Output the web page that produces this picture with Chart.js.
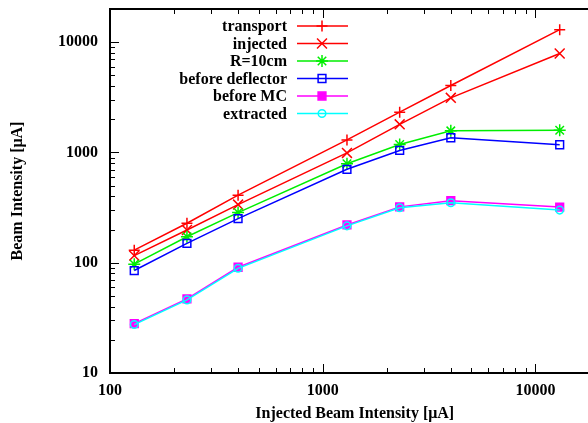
<!DOCTYPE html>
<html>
<head>
<meta charset="utf-8">
<script src="https://cdn.jsdelivr.net/npm/chart.js@4.4.0/dist/chart.umd.min.js"></script>
<style>
  body { margin: 0; background: #fff; overflow: hidden; }
  #wrap { width: 588px; height: 423px; overflow: hidden; }
</style>
</head>
<body>
<div id="wrap"><canvas id="myChart" width="608" height="423"></canvas></div>
<script>
// injected beam intensity (x) and measured currents (uA)
const injectedX = [130, 230, 400, 1300, 2300, 4000, 13000];
const transport = [130, 228, 410, 1300, 2320, 4050, 13000];
const injected = [116, 198, 337, 990, 1800, 3130, 7900];
const r10cm = [97, 172, 285, 790, 1180, 1570, 1590];
const beforeDeflector = [85, 150, 251, 704, 1043, 1360, 1175];
const beforeMC = [28, 47, 91, 220, 321, 365, 320];
const extracted = [27.5, 46, 89, 216, 315, 350, 300];

const xTickLabels = [100, 1000, 10000];
const yTickLabels = [10, 100, 1000, 10000];

const FONT = "'Liberation Serif', 'DejaVu Serif', serif";
Chart.defaults.font = { family: FONT, size: 16, weight: "bold" };
Chart.defaults.color = "#000";

function pts(ys) {
  return injectedX.map((x, i) => ({ x: x, y: ys[i] }));
}

function series(label, ys, color, style, radius, filled, i) {
  return {
    label: label,
    data: pts(ys),
    borderColor: color,
    backgroundColor: color,
    borderWidth: 1.5,
    pointStyle: style,
    pointRadius: radius,
    pointBorderWidth: 1.5,
    pointBorderColor: color,
    pointBackgroundColor: filled ? color : "rgba(0,0,0,0)",
    tension: 0,
    order: 5 - i,
  };
}

const datasets = [
  series("transport", transport, "#ff0000", "cross", 5.5, false, 0),
  series("injected", injected, "#ff0000", "crossRot", 7, false, 1),
  series("R=10cm", r10cm, "#00ee00", "star", 6, false, 2),
  series("before deflector", beforeDeflector, "#0000ff", "rect", 5.5, false, 3),
  series("before MC", beforeMC, "#ff00ff", "rect", 5.5, true, 4),
  series("extracted", extracted, "#00ffff", "circle", 3.8, false, 5),
];

// gnuplot style frame with inward ticks
const frameTicks = {
  id: "frameTicks",
  afterDraw(chart) {
    const { ctx, chartArea: a, scales } = chart;
    const x = scales.x, y = scales.y;
    ctx.save();
    ctx.strokeStyle = "#000";
    ctx.lineWidth = 1;
    ctx.beginPath();
    for (let d = 10; d <= 10000; d *= 10) {
      for (let m = 1; m <= 9; m++) {
        const v = d * m;
        if (v > y.max) continue;
        const len = m === 1 ? 9 : 5;
        const py = Math.round(y.getPixelForValue(v)) + 0.5;
        ctx.moveTo(a.left, py);
        ctx.lineTo(a.left + len, py);
      }
    }
    for (let d = 100; d <= 10000; d *= 10) {
      for (let m = 1; m <= 9; m++) {
        const v = d * m;
        if (v > x.max) continue;
        const len = m === 1 ? 9 : 5;
        const px = Math.round(x.getPixelForValue(v)) + 0.5;
        ctx.moveTo(px, a.bottom);
        ctx.lineTo(px, a.bottom - len);
        ctx.moveTo(px, a.top);
        ctx.lineTo(px, a.top + len);
      }
    }
    ctx.stroke();
    ctx.lineWidth = 2;
    ctx.beginPath();
    ctx.moveTo(a.right, a.top);
    ctx.lineTo(a.left, a.top);
    ctx.lineTo(a.left, a.bottom);
    ctx.lineTo(a.right, a.bottom);
    ctx.stroke();
    ctx.restore();
  },
};

// legend: text right aligned, line sample with marker
const keyLegend = {
  id: "keyLegend",
  afterDraw(chart) {
    const ctx = chart.ctx;
    ctx.save();
    ctx.font = "bold 16px " + FONT;
    ctx.textAlign = "right";
    ctx.textBaseline = "middle";
    chart.data.datasets.forEach((ds, i) => {
      const yy = 26 + i * 17.5;
      ctx.fillStyle = "#000";
      ctx.fillText(ds.label, 287, yy + 1);
      ctx.strokeStyle = ds.borderColor;
      ctx.lineWidth = 1.5;
      ctx.beginPath();
      ctx.moveTo(297, yy);
      ctx.lineTo(348, yy);
      ctx.stroke();
      ctx.fillStyle = ds.pointBackgroundColor;
      Chart.helpers.drawPoint(ctx, {
        pointStyle: ds.pointStyle,
        radius: ds.pointRadius,
        borderWidth: ds.pointBorderWidth,
        rotation: 0,
      }, 322, yy);
    });
    ctx.restore();
  },
};

new Chart("myChart", {
  type: "line",
  data: { datasets: datasets },
  plugins: [frameTicks, keyLegend],
  options: {
    responsive: false,
    animation: false,
    layout: { padding: { top: 9, left: 0, right: 0, bottom: 0 } },
    plugins: { legend: { display: false }, tooltip: { enabled: false } },
    scales: {
      x: {
        type: "logarithmic",
        position: "bottom",
        min: 100,
        max: 20000,
        grid: { display: false, drawTicks: false },
        border: { display: false },
        afterBuildTicks: (s) => { s.ticks = xTickLabels.map((v) => ({ value: v })); },
        afterFit: (s) => { s.height = 50; s.paddingLeft = 0; s.paddingRight = 0; },
        ticks: { padding: 8, maxRotation: 0, autoSkip: false, callback: (v) => String(v) },
        title: {
          display: true,
          text: "Injected Beam Intensity [μA]",
          padding: { top: 0, bottom: 0 },
        },
      },
      y: {
        type: "logarithmic",
        position: "left",
        min: 10,
        max: 20000,
        grid: { display: false, drawTicks: false },
        border: { display: false },
        afterBuildTicks: (s) => { s.ticks = yTickLabels.map((v) => ({ value: v })); },
        afterFit: (s) => { s.width = 110; s.paddingTop = 0; s.paddingBottom = 0; },
        ticks: { padding: 12, autoSkip: false, callback: (v) => String(v) },
        title: {
          display: true,
          text: "Beam Intensity [μA]",
          padding: { top: 8, bottom: 0 },
        },
      },
    },
  },
});
</script>
</body>
</html>
